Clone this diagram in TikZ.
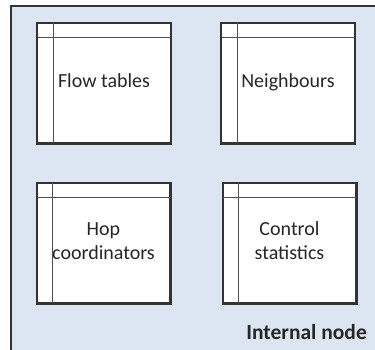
\documentclass[tikz,border=0pt]{standalone}
\usepackage{fontspec}
\setmainfont{Carlito}
\usetikzlibrary{shadows}
\definecolor{panelfill}{HTML}{DCE6F2}
\definecolor{edge}{HTML}{333333}
\definecolor{inner}{HTML}{4F4F4F}
\definecolor{ink}{HTML}{262626}
\tikzset{
  tablebox/.style={draw=edge, line width=1.5pt, fill=white,
    minimum width=133pt, minimum height=120pt, inner sep=0pt,
    align=center, text=ink, font=\fontsize{20}{24}\selectfont,
    drop shadow={shadow xshift=1.5pt, shadow yshift=-1.5pt, opacity=0.35, fill=black}},
  rule/.style={draw=inner, line width=1.2pt}
}
\begin{document}
\begin{tikzpicture}[x=1pt, y=-1pt]
\useasboundingbox (0,0) rectangle (375,349);
% outer panel, cut off at the right and bottom
\fill[panelfill] (11,6) rectangle (380,355);
\draw[edge, line width=1.5pt] (11,355) -- (11,6) -- (380,6);

\node[tablebox] (flow) at (104,83) {\strut Flow tables};
\node[tablebox] (neigh) at (288,83) {\strut Neighbours};
\node[tablebox] (hop) at (103.5,243) {\strut Hop\\\strut coordinators};
\node[tablebox] (ctrl) at (289.5,243) {\strut Control\\\strut statistics};

\foreach \b in {flow,neigh,hop,ctrl}{
  \draw[rule] ([yshift=-15pt]\b.north west) -- ([yshift=-15pt]\b.north east);
  \draw[rule] ([xshift=16.5pt]\b.north west) -- ([xshift=16.5pt]\b.south west);
  \draw[edge, line width=1.5pt] (\b.north west) rectangle (\b.south east);
}

\node[anchor=base east, text=ink, font=\fontsize{21.5}{24}\selectfont\bfseries, inner sep=0pt]
  (title) at (367,339.5) {Internal node};
\end{tikzpicture}
\end{document}
